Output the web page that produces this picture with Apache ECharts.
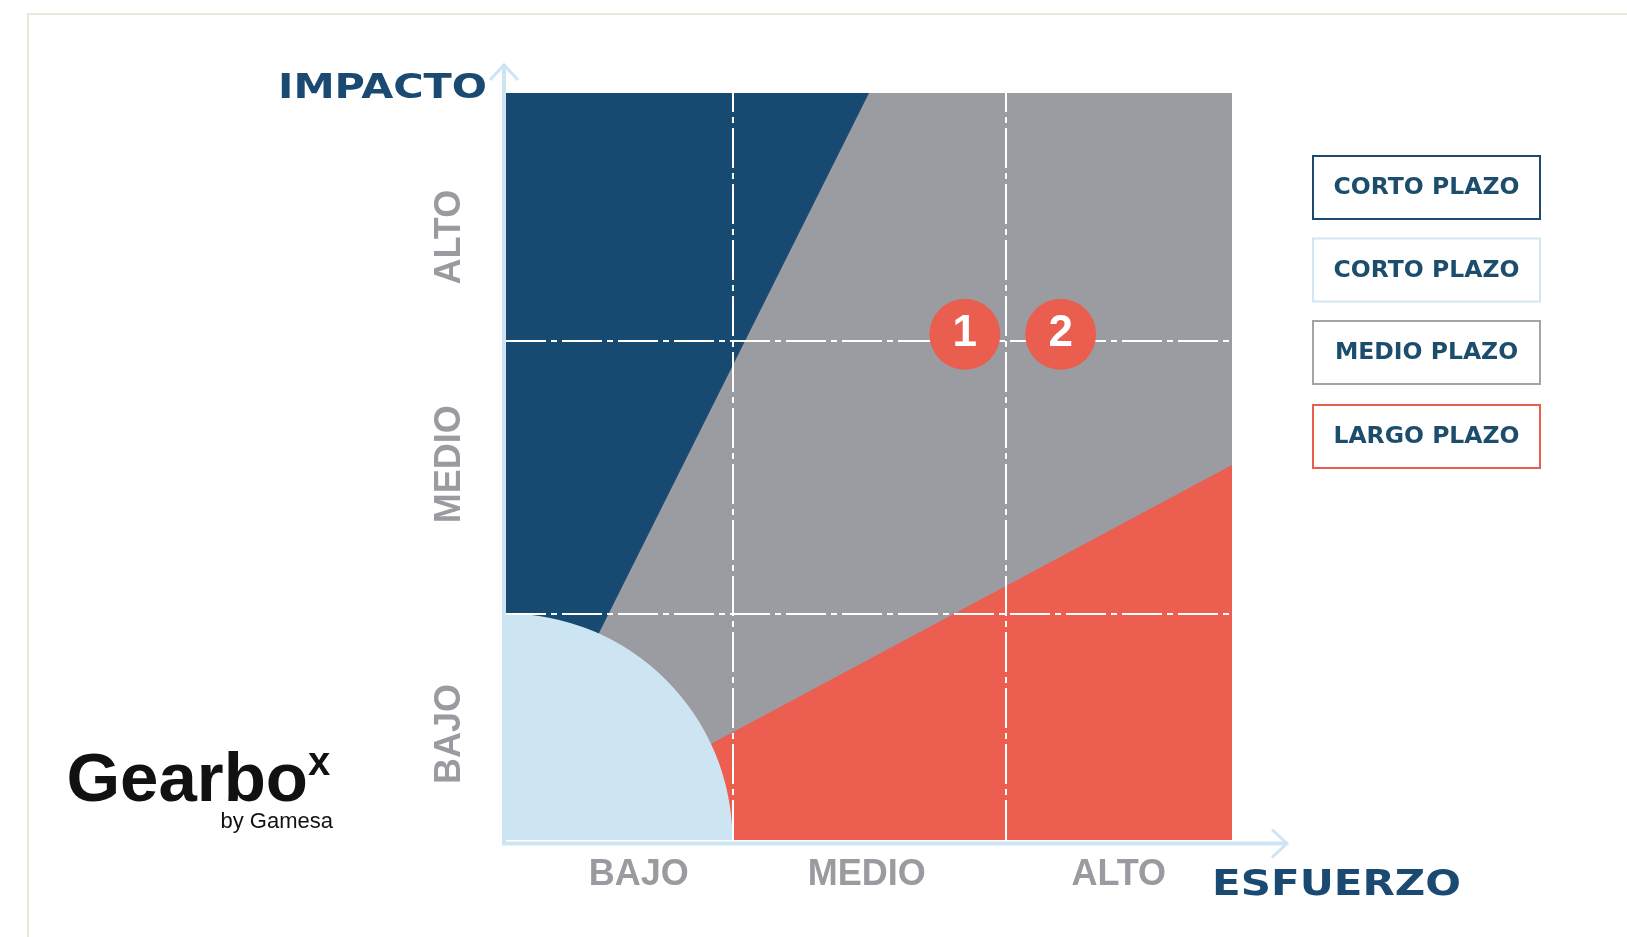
<!DOCTYPE html>
<html>
<head>
<meta charset="utf-8">
<script src="https://cdn.jsdelivr.net/npm/echarts@6/dist/echarts.min.js"></script>
<style>
html,body{margin:0;padding:0;background:#ffffff;}
#chart{width:1627px;height:937px;}
</style>
</head>
<body>
<div id="chart"></div>
<script>
// ---- data (axis units: 0..100 on both axes) ----
const xBreaks = [0, 31.2, 68.9, 100];          // vertical guide lines
const yBreaks = [0, 30.3, 66.8, 100];          // horizontal guide lines
const xTickLabels = ['BAJO', 'MEDIO', 'ALTO'];
const xTickPos = [18.3, 49.7, 84.4];
const yTickLabels = ['BAJO', 'MEDIO', 'ALTO'];
const yTickPos = [14.2, 50.3, 80.7];
const medioZone = [[0, 0], [100, 0], [100, 100], [0, 100]];
const cortoZone = [[0, 100], [50, 100], [0, 2.8]];
const largoZone = [[3.5, 0], [100, 0], [100, 50.2]];
const quickZoneCorner = [xBreaks[1], yBreaks[1]];
const pointValues = [[63.2, 67.7, '1'], [76.4, 67.7, '2']];
const legendNames = ['CORTO PLAZO', 'CORTO PLAZO', 'MEDIO PLAZO', 'LARGO PLAZO'];
const legendColors = ['#1a4a72', '#cfe6f3', '#a3a4a8', '#ea5e4f'];

const C = {blue:'#164a71', gray:'#9b9ca1', red:'#eb5e50', light:'#cde5f2', text:'#1c4d6c'};

const chart = echarts.init(document.getElementById('chart'), null, {renderer:'canvas'});

function polySeries(name, pts, color, z) {
  return {
    type: 'custom', name: name, silent: true, z: z,
    data: [0],
    renderItem: function (params, api) {
      return {type:'polygon', shape:{points: pts.map(p => api.coord(p))}, style:{fill: color}};
    }
  };
}

const option = {
  animation: false,
  backgroundColor: '#ffffff',
  grid: {left: 506, top: 93, width: 726, height: 747, containLabel: false},
  xAxis: {
    type: 'value', min: 0, max: 100,
    axisLine: {show:false}, axisTick: {show:false}, splitLine: {show:false},
    axisLabel: {
      customValues: xTickPos, margin: 17,
      formatter: v => xTickLabels[xTickPos.indexOf(v)],
      color: '#9a9ba0', fontFamily: 'Liberation Sans', fontWeight: 'bold', fontSize: 36
    }
  },
  yAxis: {
    type: 'value', min: 0, max: 100,
    axisLine: {show:false}, axisTick: {show:false}, splitLine: {show:false},
    axisLabel: {
      customValues: yTickPos, margin: 38, rotate: 90,
      formatter: v => yTickLabels[yTickPos.indexOf(v)],
      color: '#9a9ba0', fontFamily: 'Liberation Sans', fontWeight: 'bold', fontSize: 36
    }
  },
  series: [
    polySeries('MEDIO PLAZO', medioZone, C.gray, 1),
    polySeries('CORTO PLAZO', cortoZone, C.blue, 2),
    polySeries('LARGO PLAZO', largoZone, C.red, 3),
    {
      type: 'custom', name: 'CORTO PLAZO (base)', silent: true, z: 4,
      data: [0],
      renderItem: function (params, api) {
        const o = api.coord([0, 0]);
        const c = api.coord(quickZoneCorner);
        const r = ((c[0] - o[0]) + (o[1] - c[1])) / 2;
        return {type:'sector', shape:{cx:o[0], cy:o[1], r:r, r0:0, startAngle:-Math.PI/2, endAngle:0, clockwise:true}, style:{fill: C.light}};
      }
    },
    {
      type: 'line', name: 'guides', data: [], z: 5, silent: true,
      markLine: {
        silent: true, symbol: ['none', 'none'], label: {show:false},
        lineStyle: {color:'#ffffff', width: 2, type: [40, 5, 6, 5], opacity: 1},
        emphasis: {disabled: true},
        data: [
          {xAxis: xBreaks[1]}, {xAxis: xBreaks[2]},
          {yAxis: yBreaks[1]}, {yAxis: yBreaks[2]}
        ]
      }
    },
    {
      type: 'scatter', name: 'iniciativas', z: 10, silent: true,
      symbol: 'circle', symbolSize: 71,
      itemStyle: {color: '#ea5e4f', opacity: 1},
      label: {show: true, position: 'inside', formatter: p => p.data[2],
        color: '#ffffff', fontFamily: 'Liberation Sans', fontWeight: 'bold', fontSize: 44},
      data: pointValues
    }
  ]
};
chart.setOption(option);

// decorations: axes arrows, titles, legend boxes, logo, frame
const o = chart.convertToPixel({gridIndex:0}, [0, 0]);
const e = chart.convertToPixel({gridIndex:0}, [100, 100]);
const ax = o[0] - 2, ay = o[1] + 3.5;
const yTop = e[1] - 29, xEnd = e[0] + 55;
const graphics = [
  {type:'rect', z:0, shape:{x:28, y:14, width:1700, height:1000}, style:{fill:'none', stroke:'#ebe8dd', lineWidth:2}},
  {type:'polyline', z:100, shape:{points:[[ax, ay + 1.5], [ax, yTop]]}, style:{stroke:C.light, lineWidth:4, fill:'none'}},
  {type:'polyline', z:100, shape:{points:[[ax - 14, yTop + 16], [ax, yTop + 1], [ax + 14, yTop + 16]]}, style:{stroke:C.light, lineWidth:3, fill:'none'}},
  {type:'polyline', z:100, shape:{points:[[ax - 2, ay], [xEnd, ay]]}, style:{stroke:C.light, lineWidth:4, fill:'none'}},
  {type:'polyline', z:100, shape:{points:[[xEnd - 15, ay - 14], [xEnd, ay], [xEnd - 15, ay + 14]]}, style:{stroke:C.light, lineWidth:3, fill:'none'}},
  {type:'text', z:100, x:278, y:89.5, scaleX:1.255, style:{text:'IMPACTO', x:0, y:0, align:'left', verticalAlign:'middle', fill:'#1a4a72', font:'bold 33px "DejaVu Sans"'}},
  {type:'text', z:100, x:1212, y:886, scaleX:1.2, style:{text:'ESFUERZO', x:0, y:0, align:'left', verticalAlign:'middle', fill:'#1a4a72', font:'bold 35px "DejaVu Sans"'}},
  {type:'text', z:100, x:308, y:782, style:{text:'Gearbo', align:'right', verticalAlign:'middle', fill:'#111111', font:'bold 69px "Liberation Sans"'}},
  {type:'text', z:100, x:308, y:764, style:{text:'x', align:'left', verticalAlign:'middle', fill:'#111111', font:'bold 40px "Liberation Sans"'}},
  {type:'text', z:100, x:333, y:822, style:{text:'by Gamesa', align:'right', verticalAlign:'middle', fill:'#111111', font:'22px "Liberation Sans"'}}
];
const legTops = [156, 238.5, 321, 405];
legendNames.forEach((n, i) => {
  graphics.push({type:'rect', z:100, shape:{x:1313, y:legTops[i], width:227, height:63}, style:{fill:'#ffffff', stroke:legendColors[i], lineWidth:2}});
  graphics.push({type:'text', z:101, x:1426.5, y:legTops[i] + 32, style:{text:n, align:'center', verticalAlign:'middle', fill:C.text, font:'bold 23.5px "DejaVu Sans"'}});
});
chart.setOption({graphic: graphics});
</script>
</body>
</html>
